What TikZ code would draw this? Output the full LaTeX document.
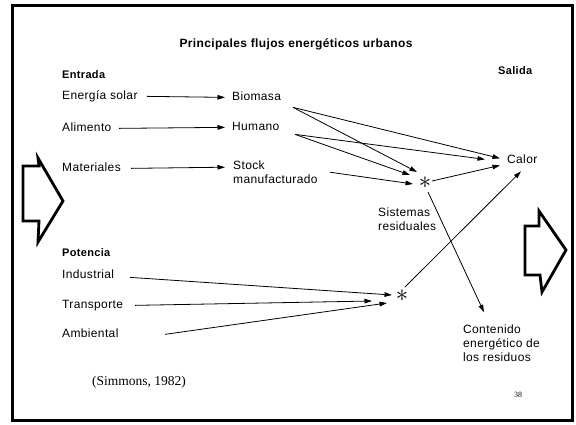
\documentclass[tikz,border=0pt]{standalone}
\usepackage{fontspec}
\setmainfont{Liberation Sans}[LetterSpace=3]
\newfontfamily\citeface{Liberation Serif}
\usetikzlibrary{arrows.meta,calc}

\begin{document}
\begin{tikzpicture}[x=1pt,y=-1pt,
  lbl/.style={anchor=base west, inner sep=0pt, font=\fontsize{12}{14}\selectfont},
  multi/.style={anchor=north west, inner sep=0pt, align=left, font=\fontsize{12}{14}\selectfont},
  hdr/.style={anchor=base west, inner sep=0pt, font=\bfseries\fontsize{11}{13}\selectfont},
  flow/.style={-{Triangle[length=7.5pt,width=4.6pt]}, line width=0.8pt},
  bigarrow/.style={line width=2.8pt, line join=miter},
  hub/.style={inner sep=0pt, font=\fontsize{26}{26}\selectfont}]
\useasboundingbox (0,0) rectangle (576,424);

% page frame
\draw[line width=3pt] (12.5,5) rectangle (572,420);

% title and column headings
\node[anchor=base, inner sep=0pt, font=\bfseries\fontsize{12}{14}\selectfont] (title) at (296,47) {Principales flujos energéticos urbanos};
\node[hdr] (entrada) at (62,78) {Entrada};
\node[hdr] (salida) at (498,74) {Salida};
\node[hdr] (potencia) at (62,256) {Potencia};

% inputs
\node[lbl] (solar) at (62,99) {Energía solar};
\node[lbl] (alim) at (62,131) {Alimento};
\node[lbl] (mat) at (62,171) {Materiales};
\node[lbl] (bio) at (232,100) {Biomasa};
\node[lbl] (hum) at (232,130) {Humano};
\node[multi] (stock) at (233,160.2) {Stock\\manufacturado};

\node[lbl] (ind) at (62,278) {Industrial};
\node[lbl] (trans) at (62,308) {Transporte};
\node[lbl] (amb) at (62,337) {Ambiental};

% junctions and outputs
\node[hub] (s1) at (425,183) {$\ast$};
\node[hub] (s2) at (402,296) {$\ast$};
\node[lbl] (calor) at (507,163) {Calor};
\node[multi] (sist) at (378,207.2) {Sistemas\\residuales};
\node[multi] (cont) at (463,324.2) {Contenido\\energético de\\los residuos};

% source note and page number
\node[anchor=base west, inner sep=0pt, font=\citeface\fontsize{13.5}{15}\selectfont] (src) at (92,385) {(Simmons, 1982)};
\node[anchor=base west, inner sep=0pt, font=\citeface\fontsize{8}{10}\selectfont] (page) at (514,397) {38};

% straight input arrows
\draw[flow] ([xshift=85pt]solar.mid west) -- ([xshift=-7pt]bio.mid west);
\draw[flow] ([xshift=57pt]alim.mid west) -- ([xshift=-7pt]hum.mid west);
\draw[flow] ([xshift=69pt]mat.mid west) -- ([shift={(-8,7)}]stock.north west);

% flows to heat and to the residual junction
\draw[flow] ([shift={(61,10)}]bio.mid west) -- ([shift={(-7,-2)}]calor.mid west);
\draw[flow] ([shift={(61,10)}]bio.mid west) -- ([shift={(-8,-11)}]s1.center);
\draw[flow] ([shift={(63,7)}]hum.mid west) -- ([shift={(-22,-1)}]calor.mid west);
\draw[flow] ([shift={(63,7)}]hum.mid west) -- ([shift={(-15,-8)}]s1.center);
\draw[flow] ([shift={(97,12)}]stock.north west) -- ([shift={(-12,1)}]s1.center);
\draw[flow] ([shift={(7,-2)}]s1.center) -- ([shift={(-7,5)}]calor.mid west);
\draw[flow] ([shift={(3,9)}]s1.center) -- ([shift={(21,-12)}]cont.north west);

% power inputs
\draw[flow] ([shift={(68,2)}]ind.mid west) -- ([shift={(-10,-1)}]s2.center);
\draw[flow] ([shift={(73,0)}]trans.mid west) -- ([shift={(-30,5)}]s2.center);
\draw[flow] ([shift={(103,0)}]amb.mid west) -- ([shift={(-15,7)}]s2.center);
\draw[flow] ([shift={(3,-9)}]s2.center) -- ([shift={(14,11)}]calor.mid west);

% large outline arrows
\draw[bigarrow] (23,166) -- (39,166) -- (38,158) -- (63,201) -- (38,242) -- (39,221) -- (23,221) -- cycle;
\draw[bigarrow] (525,226) -- (539,226) -- (539,211) -- (566,250) -- (542,292) -- (540,275) -- (525,275) -- cycle;
\end{tikzpicture}
\end{document}
